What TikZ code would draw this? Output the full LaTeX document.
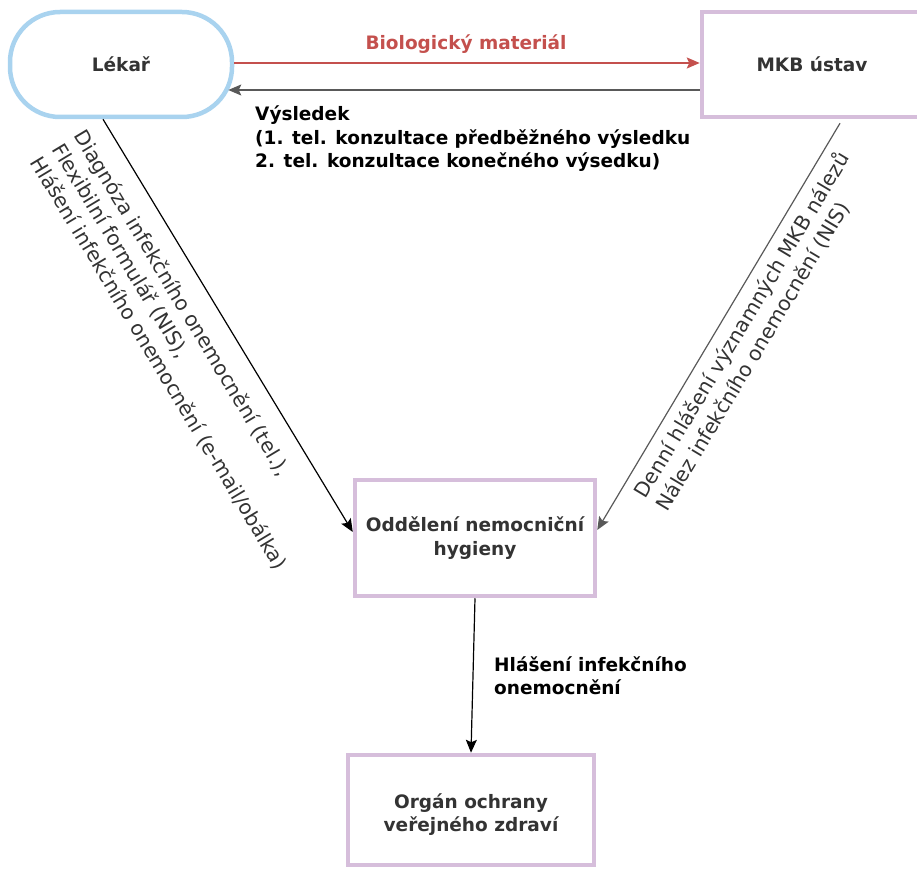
\documentclass[tikz,border=0pt]{standalone}
\usepackage{fontspec}
\setmainfont{DejaVu Sans}
\usetikzlibrary{arrows.meta}

\definecolor{boxblue}{HTML}{A9D3EF}
\definecolor{boxpurple}{HTML}{D6BEDB}
\definecolor{textgray}{HTML}{333333}
\definecolor{linkred}{HTML}{C4504D}
\definecolor{linkgray}{HTML}{595959}

\begin{document}
\begin{tikzpicture}[x=1pt,y=-1pt,
  tip/.style={-{Stealth[length=13pt,width=11pt,inset=2.5pt]}},
  box/.style={draw=boxpurple, line width=4.5pt, fill=white, align=center,
    text=textgray, inner sep=0pt,
    font=\fontsize{18.5pt}{23.5pt}\selectfont\bfseries},
  lbl/.style={inner sep=0pt, text=black,
    font=\fontsize{18.5pt}{23.5pt}\selectfont\bfseries},
  rotlbl/.style={inner sep=0pt, text=textgray, align=left,
    font=\fontsize{20.3pt}{25.5pt}\selectfont},
  redlink/.style={tip, draw=linkred, line width=1.6pt},
  graylink/.style={tip, draw=linkgray, line width=1.6pt},
  thinlink/.style={tip, draw=black, line width=1.2pt},
  thingray/.style={tip, draw=linkgray, line width=1.2pt}]

\useasboundingbox (0,0) rectangle (917,869);
\clip (0,0) rectangle (917,869);

% boxes
\node[box, draw=boxblue, rounded corners=50pt,
      minimum width=222pt, minimum height=105pt] (lekar) at (121,64.5) {Lékař};
\node[box, minimum width=220pt, minimum height=105pt] (mkb) at (812,64.5) {MKB ústav};
\node[box, minimum width=240pt, minimum height=116pt] (odd) at (475,538)
  {Oddělení nemocniční\\hygieny};
\node[box, minimum width=246pt, minimum height=110pt] (organ) at (471,810)
  {\rule{0pt}{24pt}Orgán ochrany\\veřejného zdraví};

% connectors
\draw[redlink] ([yshift=1.5pt]lekar.east) -- ([yshift=1.5pt]mkb.west);
\draw[graylink] ([yshift=-25.5pt]mkb.west) -- ([shift={(-6pt,-25.5pt)}]lekar.east);
\draw[thinlink] ([xshift=-18pt]lekar.south) -- ([yshift=6pt]odd.west);
\draw[thingray] ([shift={(28pt,-4pt)}]mkb.south) -- ([yshift=8pt]odd.east);
\draw[thinlink] (odd.south) -- (organ.north);

% labels
\node[lbl, text=linkred, anchor=base] (bio) at (466,50) {Biologický materiál};
\node[lbl, anchor=north west, align=left] (vys) at (255,105.6)
  {Výsledek\\(1. tel. konzultace předběžného výsledku\\2. tel. konzultace konečného výsedku)};
\node[lbl, anchor=north west, align=left] (hlas) at (494,656)
  {Hlášení infekčního\\onemocnění};
\node[rotlbl, rotate=-59, anchor=north west] (diag) at (87.6,127.3)
  {Diagnóza infekčního onemocnění (tel.),\\Flexibilní formulář (NIS),\\Hlášení infekčního onemocnění (e-mail/obálka)};
\node[rotlbl, rotate=59.1, anchor=north west] (denni) at (630.9,490.8)
  {Denní hlášení významných MKB nálezů\\Nález infekčního onemocnění (NIS)};
\end{tikzpicture}
\end{document}
